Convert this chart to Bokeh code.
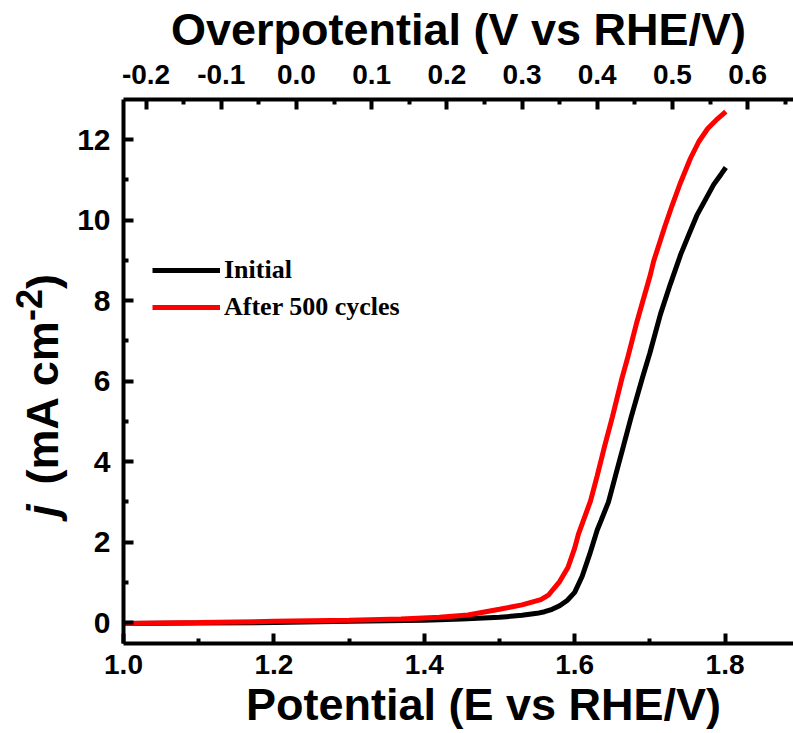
from bokeh.plotting import figure
from bokeh.models import (LinearAxis, Range1d, FixedTicker, PrintfTickFormatter,
                          Legend, LegendItem, Div)
from bokeh.layouts import row
from bokeh.embed import file_html
from bokeh.resources import INLINE

# ---- data ----
e_initial = [1.00, 1.10, 1.20, 1.30, 1.40, 1.45, 1.50, 1.53, 1.55, 1.56, 1.57, 1.58,
             1.59, 1.60, 1.61, 1.62, 1.63, 1.635, 1.645, 1.655, 1.665, 1.675, 1.69,
             1.70, 1.714, 1.727, 1.741, 1.752, 1.763, 1.775, 1.785, 1.795, 1.801]
j_initial = [-0.02, -0.01, 0.00, 0.03, 0.06, 0.09, 0.13, 0.18, 0.23, 0.27, 0.33, 0.42,
             0.55, 0.75, 1.15, 1.70, 2.30, 2.53, 3.00, 3.70, 4.40, 5.10, 6.08,
             6.70, 7.66, 8.40, 9.15, 9.65, 10.14, 10.55, 10.89, 11.15, 11.31]

e_after = [1.00, 1.10, 1.20, 1.30, 1.369, 1.42, 1.458, 1.50, 1.53, 1.555, 1.565, 1.572,
           1.58, 1.591, 1.60, 1.605, 1.621, 1.63, 1.64, 1.65, 1.663, 1.67, 1.683, 1.69,
           1.70, 1.705, 1.72, 1.73, 1.74, 1.754, 1.765, 1.777, 1.79, 1.801]
j_after = [-0.02, 0.00, 0.03, 0.06, 0.09, 0.13, 0.19, 0.33, 0.44, 0.57, 0.68, 0.84,
           1.02, 1.37, 1.85, 2.20, 3.02, 3.65, 4.40, 5.10, 6.08, 6.55, 7.49, 7.95,
           8.60, 8.98, 9.85, 10.39, 10.90, 11.54, 11.95, 12.28, 12.52, 12.70]

series_names = ["Initial", "After 500 cycles"]
series_colors = ["#000000", "#ff0000"]

x_ticks = [1.0, 1.2, 1.4, 1.6, 1.8]
x_minor = [1.1, 1.3, 1.5, 1.7, 1.9]
top_ticks = [-0.2, -0.1, 0.0, 0.1, 0.2, 0.3, 0.4, 0.5, 0.6]
top_minor = [-0.15, -0.05, 0.05, 0.15, 0.25, 0.35, 0.45, 0.55, 0.65]
y_ticks = [0, 2, 4, 6, 8, 10, 12]
y_minor = [1, 3, 5, 7, 9, 11]

x_title = "Potential (E vs RHE/V)"
top_title = "Overpotential (V vs RHE/V)"

e_rev = 1.23  # overpotential = E - 1.23
x_lo, x_hi = 1.0, 1.891
y_lo, y_hi = -0.52, 13.0

FONT = "Liberation Sans"
DIV_W = 74

p = figure(width=793 - DIV_W, height=733, output_backend="svg", toolbar_location=None,
           x_range=Range1d(x_lo, x_hi), y_range=Range1d(y_lo, y_hi),
           x_axis_location="below", y_axis_location="left",
           min_border_left=123 - DIV_W, min_border_right=0, min_border_top=98,
           min_border_bottom=90, margin=(0, 0, 0, 0))
p.outline_line_color = None
p.grid.visible = False
p.background_fill_color = "white"
p.border_fill_color = "white"

p.extra_x_ranges = {"eta": Range1d(x_lo - e_rev, x_hi - e_rev)}
top = LinearAxis(x_range_name="eta")
p.add_layout(top, "above")

def style_axis(ax, ticks, minor, size):
    ax.ticker = FixedTicker(ticks=ticks, minor_ticks=minor)
    ax.axis_line_width = 4
    ax.axis_line_color = "black"
    ax.major_tick_line_width = 4
    ax.minor_tick_line_width = 4
    ax.major_tick_in = 10
    ax.major_tick_out = 0
    ax.minor_tick_in = 5
    ax.minor_tick_out = 0
    ax.major_label_text_font = FONT
    ax.major_label_text_font_style = "bold"
    ax.major_label_text_font_size = size
    ax.major_label_text_color = "black"
    ax.axis_label_text_font = FONT
    ax.axis_label_text_font_style = "bold"
    ax.axis_label_text_color = "black"

bottom = p.below[0]
style_axis(bottom, x_ticks, x_minor, "28px")
bottom.formatter = PrintfTickFormatter(format="%.1f")
bottom.major_label_standoff = 11
# leading no-break spaces shift the centred title right, as in the original
bottom.axis_label = "\u00a0\u00a0\u00a0\u00a0" + x_title
bottom.axis_label_text_font_size = "45px"
bottom.axis_label_standoff = 2

style_axis(top, top_ticks, top_minor, "28px")
top.formatter = PrintfTickFormatter(format="%.1f")
top.major_label_standoff = 16
top.axis_label = top_title
top.axis_label_text_font_size = "45px"
top.axis_label_standoff = 7

left = p.left[0]
style_axis(left, y_ticks, y_minor, "30px")
left.major_label_standoff = 13

r1 = p.line(e_initial, j_initial, line_color=series_colors[0], line_width=5)
r2 = p.line(e_after, j_after, line_color=series_colors[1], line_width=5)

legend = Legend(items=[LegendItem(label=series_names[0], renderers=[r1]),
                       LegendItem(label=series_names[1], renderers=[r2])],
                location=(29, 321), orientation="vertical",
                border_line_color=None, background_fill_alpha=0,
                padding=0, margin=0, spacing=7,
                glyph_width=68, glyph_height=26, label_height=26,
                label_standoff=4,
                label_text_font="Liberation Serif", label_text_font_style="bold",
                label_text_font_size="26px", label_text_color="black")
p.add_layout(legend, "center")

# y axis title: italic j and superscript -2, as real (HTML) text
y_title_html = (
    '<div style="position:absolute; left:0px; top:517px; transform-origin:0 0; '
    'transform:rotate(-90deg); white-space:nowrap; font-family:\'Liberation Sans\'; '
    'font-weight:bold; font-size:45px; line-height:60px; color:#000; overflow:visible;">'
    '<i style="margin-right:20px;">j</i>(mA cm<sup style="font-size:36px;">-2</sup>)</div>'
)
ydiv = Div(text=y_title_html, width=DIV_W, height=733, margin=(0, 0, 0, 0),
           styles={"position": "relative", "overflow": "visible"})

layout = row(ydiv, p, spacing=0)
open("out.html", "w").write(file_html(layout, INLINE))
